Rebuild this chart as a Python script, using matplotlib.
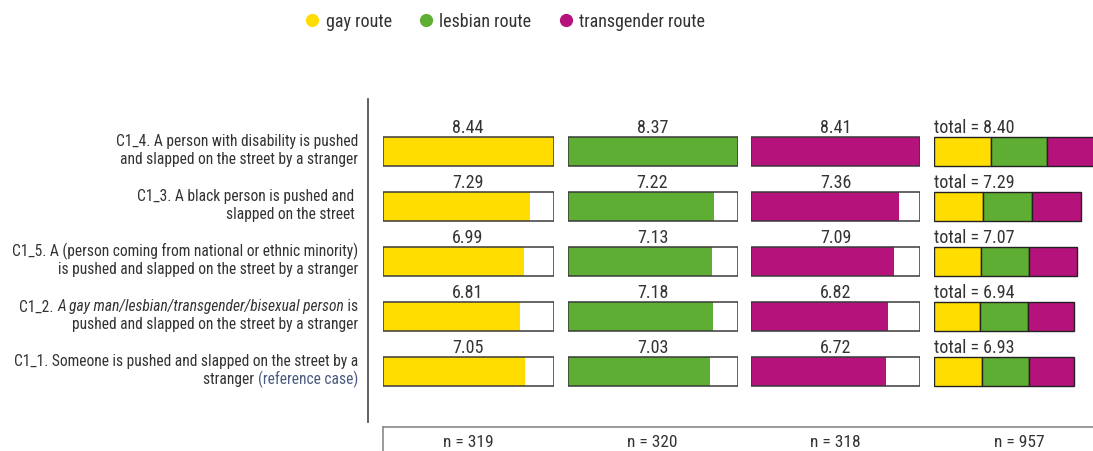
import matplotlib
matplotlib.use("Agg")
import matplotlib.pyplot as plt
from matplotlib.lines import Line2D

plt.rcParams["font.family"] = ["Roboto Condensed", "DejaVu Sans"]
plt.rcParams["font.weight"] = "normal"

# mean scores per item and route (top row first)
items = ["C1_4", "C1_3", "C1_5", "C1_2", "C1_1"]
gay = [8.44, 7.29, 6.99, 6.81, 7.05]
lesbian = [8.37, 7.22, 7.13, 7.18, 7.03]
trans = [8.41, 7.36, 7.09, 6.82, 6.72]
total = [8.40, 7.29, 7.07, 6.94, 6.93]
n_obs = [319, 320, 318, 957]
routes = ["gay route", "lesbian route", "transgender route"]
colors = ["#FFDD00", "#5DAE33", "#B5127B"]

TXT = "#333333"
REF = "#4A5A80"
W, H = 1093, 452

fig = plt.figure(figsize=(W / 100, H / 100), dpi=100)


def px_axes(x0, x1, y0, y1):
    ax = fig.add_axes([x0 / W, 1 - y1 / H, (x1 - x0) / W, (y1 - y0) / H])
    ax.set_ylim(len(items) - 0.5, -0.5)
    ax.axis("off")
    return ax


BAR_H = 0.53
LBL_DY = -0.355

cols = [(382.5, 553.5, gay), (567.5, 737.5, lesbian), (750.5, 920.5, trans)]
for (x0, x1, vals), c in zip(cols, colors):
    ax = px_axes(x0, x1, 125, 400)
    top = max(vals)
    ax.set_xlim(0, top)
    for i, v in enumerate(vals):
        ax.barh(i, top, height=BAR_H, color="white", edgecolor="none")
        ax.barh(i, v, height=BAR_H, color=c, edgecolor="none")
        ax.barh(i, top, height=BAR_H, fill=False, edgecolor="#3a3a3a", lw=1.1, zorder=3)
        ax.text(top / 2, i + LBL_DY, f"{v:.2f}", ha="center", va="baseline",
                fontsize=13, color=TXT)

# stacked totals, same px-per-unit as the route columns
axt = px_axes(934, 1104, 125, 400)
axt.set_xlim(0, max(gay) + max(lesbian) + max(trans))
for i in range(len(items)):
    left = 0
    for vals, c in zip([gay, lesbian, trans], colors):
        axt.barh(i, vals[i], left=left, height=BAR_H, color=c, edgecolor="#222222", lw=1.0)
        left += vals[i]
    axt.text(0, i + LBL_DY, f"total = {total[i]:.2f}", ha="left", va="baseline",
             fontsize=13, color=TXT)

# item labels on the left
axl = px_axes(0, 360, 125, 400)
axl.set_xlim(0, 360)
L1, L2 = -0.11, 0.215
FS = 11.2
fig.canvas.draw()
rend = fig.canvas.get_renderer()


def chain(y, parts):
    # right-aligned run of text pieces with their own style
    x = 358
    for txt, kw in reversed(parts):
        t = axl.text(x, y, txt, ha="right", va="baseline", fontsize=FS, color=kw.get("color", TXT),
                     style=kw.get("style", "normal"))
        bb = t.get_window_extent(renderer=rend)
        x = axl.transData.inverted().transform((bb.x0, 0))[0]


labels = [
    [[("C1_4. A person with disability is pushed", {})],
     [("and slapped on the street by a stranger", {})]],
    [[("C1_3. A black person is pushed and ", {})],
     [("slapped on the street ", {})]],
    [[("C1_5. A (person coming from national or ethnic minority)", {})],
     [("is pushed and slapped on the street by a stranger", {})]],
    [[("C1_2. ", {}), ("A gay man/lesbian/transgender/bisexual person", {"style": "italic"}), (" is", {})],
     [("pushed and slapped on the street by a stranger", {})]],
    [[("C1_1. Someone is pushed and slapped on the street by a", {})],
     [("stranger ", {}), ("(reference case)", {"color": REF})]],
]
for i, (line1, line2) in enumerate(labels):
    chain(i + L1, line1)
    chain(i + L2, line2)

# separator between labels and bars
fig.add_artist(Line2D([367.5 / W] * 2, [1 - 100 / H, 1 - 423 / H], color="#444444", lw=1.2))

# sample size strip
axb = fig.add_axes([382.7 / W, 0, 1, (452 - 427.7) / H])
axb.set_xticks([])
axb.set_yticks([])
for s in ["right", "bottom"]:
    axb.spines[s].set_visible(False)
for s in ["top", "left"]:
    axb.spines[s].set_color("#8a8a8a")
    axb.spines[s].set_linewidth(1.2)
centers = [(x0 + x1) / 2 for x0, x1, _ in cols] + [1019]
for xc, n in zip(centers, n_obs):
    fig.text(xc / W, 1 - 447.5 / H, f"n = {n}", ha="center", va="baseline", fontsize=12.5, color=TXT)

handles = [Line2D([], [], marker="o", ls="none", markersize=9.5, markerfacecolor=c,
                  markeredgecolor="none") for c in colors]
fig.legend(handles, routes, loc="center", bbox_to_anchor=(506 / W, 1 - 22 / H), ncol=3,
           frameon=False, fontsize=13, handlelength=0.6, handletextpad=0.45,
           columnspacing=1.6, labelcolor=TXT)

fig.savefig("out.png", dpi=100)
